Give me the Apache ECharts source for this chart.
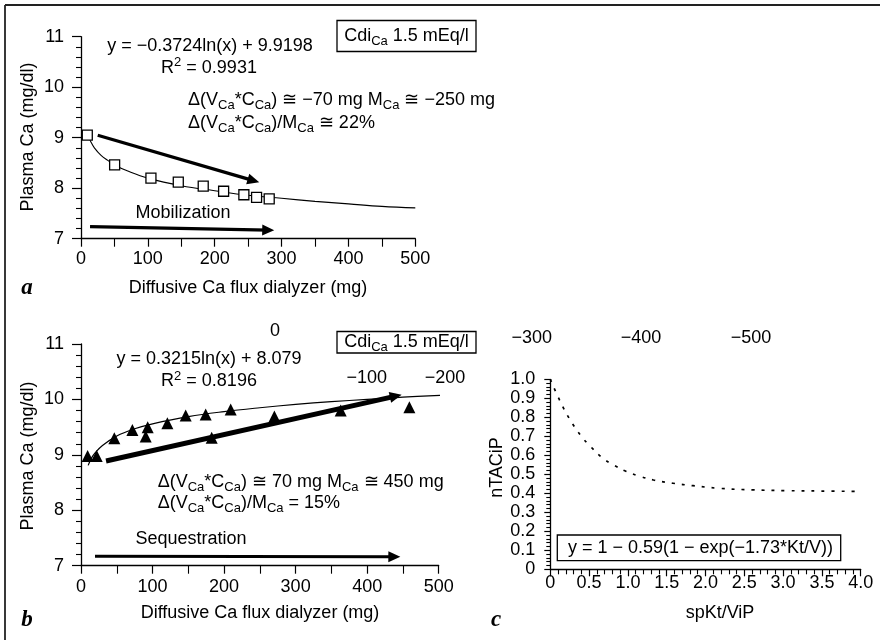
<!DOCTYPE html>
<html>
<head>
<meta charset="utf-8">
<script src="https://cdn.jsdelivr.net/npm/echarts@6/dist/echarts.min.js"></script>
<style>
html,body{margin:0;padding:0;background:#fff;}
#chart{width:880px;height:640px;}
</style>
</head>
<body>
<div id="chart"></div>
<script>
// ---- Panel a data ----
const aX = [9.4, 50.3, 104.6, 145.5, 182.8, 213.3, 243.6, 262.6, 281.5];
const aY = [9.05, 8.46, 8.20, 8.12, 8.04, 7.94, 7.87, 7.82, 7.79];
const aFitX = [10, 15, 20, 30, 40, 50, 70, 100, 150, 200, 250, 300, 350, 400, 450, 500];
const aFitY = [9.06, 8.91, 8.80, 8.65, 8.55, 8.46, 8.34, 8.20, 8.05, 7.95, 7.86, 7.80, 7.74, 7.69, 7.64, 7.61];
const aArrowTrend = [[25, 9.05], [258, 8.15]];
const aArrowMobil = [[13.5, 7.24], [280, 7.17]];

// ---- Panel b data ----
const bX = [9.3, 21.9, 46.6, 71.8, 90.4, 93.2, 120.7, 146.3, 174.3, 182.7, 209.2, 270.3, 363, 459];
const bY = [8.98, 8.98, 9.30, 9.45, 9.33, 9.50, 9.57, 9.71, 9.73, 9.31, 9.82, 9.69, 9.80, 9.86];
const bFitX = [10, 15, 20, 30, 50, 75, 100, 150, 200, 250, 300, 350, 400, 450, 512];
const bFitY = [8.81, 8.95, 9.04, 9.17, 9.34, 9.47, 9.56, 9.69, 9.78, 9.85, 9.91, 9.96, 10.00, 10.04, 10.08];
const bArrowTrend = [[35, 8.89], [440, 10.06]];
const bArrowSeq = [[19.6, 7.17], [438, 7.16]];

// ---- Panel c data ----
const cX = [0, 0.12, 0.25, 0.40, 0.51, 0.66, 0.81, 0.98, 1.15, 1.33, 1.58, 1.84, 2.18, 2.61, 3.04, 3.47, 4.0];
const cY = [1.0, 0.89, 0.79, 0.70, 0.65, 0.59, 0.55, 0.515, 0.49, 0.47, 0.453, 0.44, 0.426, 0.418, 0.414, 0.412, 0.41];

// ---- Tick labels ----
const abYTicks = [7, 8, 9, 10, 11];
const abXTicks = [0, 100, 200, 300, 400, 500];
const cYTicks = [0, 0.1, 0.2, 0.3, 0.4, 0.5, 0.6, 0.7, 0.8, 0.9, 1.0];
const cXTicks = [0, 0.5, 1.0, 1.5, 2.0, 2.5, 3.0, 3.5, 4.0];
const strayTopLabels = ['0', '\u2212100', '\u2212200', '\u2212300', '\u2212400', '\u2212500'];

const FONT = '"Liberation Sans", Arial, Helvetica, sans-serif';
const FS = 18;
const BLACK = '#000';

const chart = echarts.init(document.getElementById('chart'), null, {renderer: 'canvas'});

function pairs(xs, ys) { return xs.map((x, i) => [x, ys[i]]); }

function fmt1(v) { return Math.abs(v) < 1e-9 ? '0' : v.toFixed(1); }

function valueAxis(idx, min, max, interval, minorSplit, tickLen, minorLen, labelMargin, formatter) {
  return {
    type: 'value', gridIndex: idx, min: min, max: max, interval: interval,
    splitLine: {show: false},
    axisLine: {show: true, onZero: false, lineStyle: {color: BLACK, width: 1.3}},
    axisTick: {show: true, length: tickLen, lineStyle: {color: BLACK, width: 1.2}},
    minorTick: {show: true, splitNumber: minorSplit, length: minorLen, lineStyle: {color: BLACK, width: 1.1}},
    axisLabel: {color: BLACK, fontSize: FS, fontFamily: FONT, margin: labelMargin, formatter: formatter, hideOverlap: false},
  };
}

const sub = {fontSize: 13, fontFamily: FONT, color: BLACK, padding: [11, 0, 0, 0]};
const sup = {fontSize: 13, fontFamily: FONT, color: BLACK, padding: [0, 0, 11, 0]};
const richBase = {sub: sub, sup: sup};

function txt(x, y, text, opts) {
  opts = opts || {};
  return {
    type: 'text', x: x, y: y, silent: true,
    style: Object.assign({
      text: text, fill: BLACK, font: FS + 'px ' + FONT,
      textAlign: opts.align || 'center', textVerticalAlign: 'middle', rich: richBase
    }, opts.style || {}),
    rotation: opts.rotation || 0
  };
}

function box(x, y, w, h) {
  return {type: 'rect', silent: true, shape: {x: x, y: y, width: w, height: h},
    style: {fill: '#fff', stroke: BLACK, lineWidth: 1.3}};
}

const LETTER = 'italic bold 23px "Liberation Serif", "DejaVu Serif", serif';

const graphics = [
  // frame lines
  {type: 'line', silent: true, shape: {x1: 5, y1: 5, x2: 880, y2: 5}, style: {stroke: '#222', lineWidth: 1.8}},
  {type: 'line', silent: true, shape: {x1: 5, y1: 5, x2: 5, y2: 640}, style: {stroke: '#222', lineWidth: 1.8}},

  // Panel a texts
  txt(210, 46, 'y = \u22120.3724ln(x) + 9.9198'),
  txt(209, 68, 'R{sup|2} = 0.9931'),
  txt(188, 100, '\u0394(V{sub|Ca}*C{sub|Ca}) \u2245 \u221270 mg M{sub|Ca} \u2245 \u2212250 mg', {align: 'left'}),
  txt(188, 123, '\u0394(V{sub|Ca}*C{sub|Ca})/M{sub|Ca} \u2245 22%', {align: 'left'}),
  box(337, 20.5, 139, 31),
  txt(406.5, 36, 'Cdi{sub|Ca} 1.5 mEq/l'),
  txt(183, 213, 'Mobilization'),
  txt(28, 137, 'Plasma Ca (mg/dl)', {rotation: Math.PI / 2}),
  txt(248, 288.5, 'Diffusive Ca flux dialyzer (mg)'),
  txt(27, 288, 'a', {style: {font: LETTER}}),

  // Panel b texts
  txt(275, 331.5, strayTopLabels[0]),
  box(337, 331.5, 139, 21.5),
  txt(406.5, 342, 'Cdi{sub|Ca} 1.5 mEq/l'),
  txt(209, 359, 'y = 0.3215ln(x) + 8.079'),
  txt(209, 381.5, 'R{sup|2} = 0.8196'),
  txt(366.7, 378.3, strayTopLabels[1]),
  txt(445, 378.3, strayTopLabels[2]),
  txt(157.7, 482.3, '\u0394(V{sub|Ca}*C{sub|Ca}) \u2245 70 mg M{sub|Ca} \u2245 450 mg', {align: 'left'}),
  txt(157.7, 503.3, '\u0394(V{sub|Ca}*C{sub|Ca})/M{sub|Ca} = 15%', {align: 'left'}),
  txt(191, 539, 'Sequestration'),
  txt(28, 456, 'Plasma Ca (mg/dl)', {rotation: Math.PI / 2}),
  txt(260, 613.3, 'Diffusive Ca flux dialyzer (mg)'),
  txt(27, 620, 'b', {style: {font: LETTER}}),

  // Panel c texts
  txt(531.7, 338, strayTopLabels[3]),
  txt(641, 338, strayTopLabels[4]),
  txt(751, 338, strayTopLabels[5]),
  txt(497, 467.5, 'nTACiP', {rotation: Math.PI / 2}),
  txt(720, 613, 'spKt/ViP'),
  box(557.3, 535, 283.4, 25.7),
  txt(700.5, 548, 'y = 1 \u2212 0.59(1 \u2212 exp(\u22121.73*Kt/V))'),
  txt(496, 620, 'c', {style: {font: LETTER}}),
];

const option = {
  animation: false,
  backgroundColor: '#fff',
  grid: [
    {left: 81, top: 36.7, width: 334.3, height: 202, containLabel: false},
    {left: 81, top: 344, width: 357.7, height: 221.7, containLabel: false},
    {left: 550.3, top: 379.3, width: 310.4, height: 190, containLabel: false},
  ],
  xAxis: [
    valueAxis(0, abXTicks[0], abXTicks[abXTicks.length - 1], 100, 2, 8, 8, 11, v => String(v)),
    valueAxis(1, abXTicks[0], abXTicks[abXTicks.length - 1], 100, 2, 8, 8, 12, v => String(v)),
    valueAxis(2, cXTicks[0], cXTicks[cXTicks.length - 1], 0.5, 5, 7, 5, 5, fmt1),
  ],
  yAxis: [
    valueAxis(0, abYTicks[0], abYTicks[abYTicks.length - 1], 1, 5, 9, 5, 17, v => String(v)),
    valueAxis(1, abYTicks[0], abYTicks[abYTicks.length - 1], 1, 5, 9, 5, 17, v => String(v)),
    valueAxis(2, cYTicks[0], cYTicks[cYTicks.length - 1], 0.1, 5, 6, 4, 15, fmt1),
  ],
  series: [
    {
      type: 'line', xAxisIndex: 0, yAxisIndex: 0, data: pairs(aFitX, aFitY),
      smooth: 0.4, showSymbol: false, silent: true,
      lineStyle: {color: BLACK, width: 1.1}, z: 2,
      markLine: {
        silent: true, symbol: ['none', 'triangle'], symbolSize: [11, 12],
        label: {show: false}, emphasis: {disabled: true},
        lineStyle: {color: BLACK, type: 'solid', width: 3.2},
        itemStyle: {color: BLACK},
        data: [
          [{coord: aArrowTrend[0]}, {coord: aArrowTrend[1]}],
          [{coord: aArrowMobil[0]}, {coord: aArrowMobil[1]}]
        ]
      }
    },
    {
      type: 'scatter', xAxisIndex: 0, yAxisIndex: 0, data: pairs(aX, aY),
      symbol: 'rect', symbolSize: 10, z: 3,
      itemStyle: {color: '#fff', borderColor: BLACK, borderWidth: 1.3, opacity: 1}
    },
    {
      type: 'line', xAxisIndex: 1, yAxisIndex: 1, data: pairs(bFitX, bFitY),
      smooth: 0.4, showSymbol: false, silent: true,
      lineStyle: {color: BLACK, width: 1.2}, z: 2,
      markLine: {
        silent: true, symbol: ['none', 'triangle'], symbolSize: [11, 12],
        label: {show: false}, emphasis: {disabled: true},
        lineStyle: {color: BLACK, type: 'solid', width: 3},
        itemStyle: {color: BLACK},
        data: [
          [{coord: bArrowTrend[0], lineStyle: {width: 5}}, {coord: bArrowTrend[1]}],
          [{coord: bArrowSeq[0], lineStyle: {width: 3}}, {coord: bArrowSeq[1]}]
        ]
      }
    },
    {
      type: 'scatter', xAxisIndex: 1, yAxisIndex: 1, data: pairs(bX, bY),
      symbol: 'triangle', symbolSize: 12, z: 3,
      itemStyle: {color: BLACK, opacity: 1}
    },
    {
      type: 'line', xAxisIndex: 2, yAxisIndex: 2, data: pairs(cX, cY),
      smooth: 0.4, showSymbol: false, silent: true,
      lineStyle: {color: BLACK, width: 1.7, type: [3, 7]}
    }
  ],
  graphic: graphics
};

chart.setOption(option);
</script>
</body>
</html>
